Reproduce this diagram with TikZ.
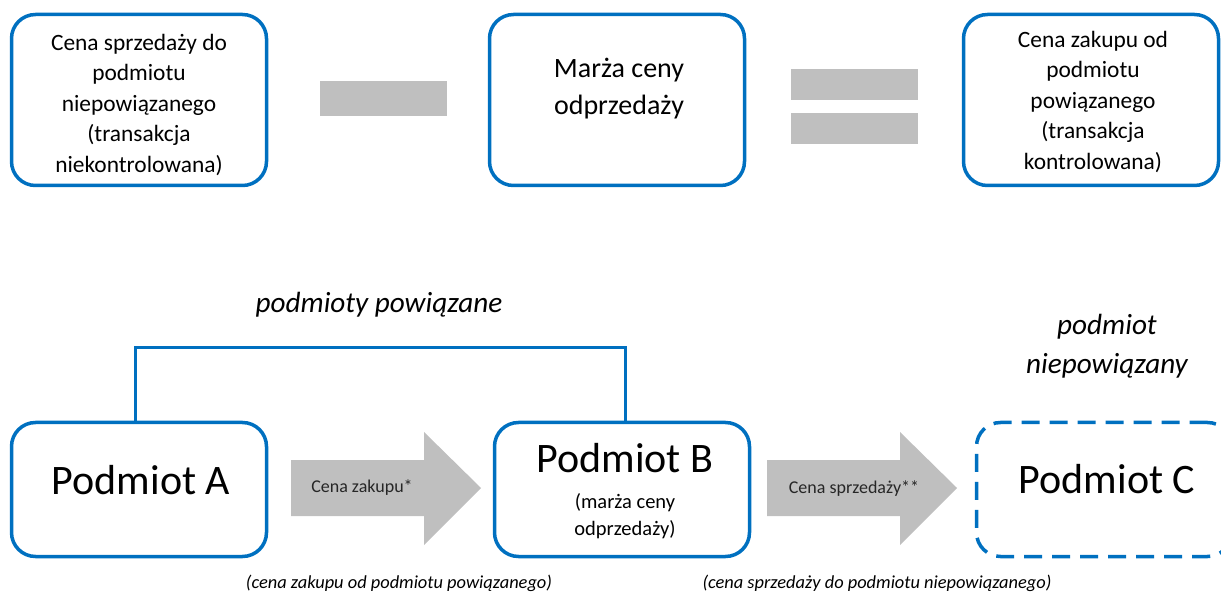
\documentclass[tikz,border=0pt]{standalone}
\usepackage{fontspec}
\setmainfont{Carlito}
\usetikzlibrary{positioning}

\definecolor{boxblue}{HTML}{0070C0}
\definecolor{arrowgray}{HTML}{BFBFBF}
\definecolor{labelgray}{HTML}{262626}

\tikzset{
  topbox/.style={draw=boxblue, line width=3.5pt, rounded corners=24pt,
    minimum width=255pt, minimum height=171pt},
  entbox/.style={draw=boxblue, line width=3.5pt, rounded corners=24pt,
    minimum width=255pt, minimum height=134pt},
  toptext/.style={align=center, font=\fontsize{23.4}{30.5}\selectfont},
  bigtext/.style={font=\fontsize{42}{50}\selectfont},
  arrowtext/.style={text=labelgray, font=\fontsize{18}{22}\selectfont},
  note/.style={align=center, font=\itshape\fontsize{29.2}{39}\selectfont},
  caption/.style={font=\itshape\fontsize{18.4}{20}\selectfont}
}

\begin{document}
\begin{tikzpicture}[x=1pt,y=-1pt]
  \useasboundingbox (0,0) rectangle (1221,593);
  % top row
  \node[topbox] (sale) at (139,100) {};
  \node[topbox] (margin) at (617,100) {};
  \node[topbox] (purchase) at (1091,100) {};
  \node[toptext] (saletxt) at (139,105)
    {Cena sprzedaży do\\podmiotu\\niepowiązanego\\(transakcja\\niekontrolowana)};
  \node[align=center, font=\fontsize{28}{37}\selectfont] (margintxt) at (619,89)
    {Marża ceny\\odprzedaży};
  \node[toptext] (purchasetxt) at (1093,102)
    {Cena zakupu od\\podmiotu\\powiązanego\\(transakcja\\kontrolowana)};
  \fill[arrowgray] (320,81) rectangle (447,116);
  \fill[arrowgray] (791,69) rectangle (918,100);
  \fill[arrowgray] (791,113) rectangle (918,144);

  % bottom row
  \node[entbox] (entA) at (139,489.5) {};
  \node[entbox] (entB) at (622,489.5) {};
  \node[entbox, dashed, dash pattern=on 18pt off 10pt] (entC) at (1104,489.5) {};
  \node[bigtext] (entAtxt) at (141,480) {Podmiot A};
  \node[bigtext] (entBtxt) at (625,458) {Podmiot B};
  \node[align=center, font=\fontsize{20.5}{27}\selectfont] (entBsub) at (625,516)
    {(marża ceny\\odprzedaży)};
  \node[bigtext] (entCtxt) at (1107,479) {Podmiot C};

  % related parties
  \coordinate (brA) at (135,348);
  \coordinate (brB) at (625,348);
  \draw[boxblue, line width=3pt] (brA |- entA.north) -- (brA) -- (brB) -- (brB |- entB.north);
  \node[note] (related) at (379,305) {podmioty powiązane};
  \node[note] (unrelated) at (1107,346) {podmiot\\niepowiązany};

  % flows
  \fill[arrowgray] (291,460) -- (424,460) -- (424,432) -- (481,488)
    -- (424,545) -- (424,516) -- (291,516) -- cycle;
  \fill[arrowgray] (767,460) -- (900,460) -- (900,432) -- (957,488)
    -- (900,545) -- (900,516) -- (767,516) -- cycle;
  \node[arrowtext] (buy) at (362,488) {Cena zakupu*};
  \node[arrowtext] (sell) at (854,489) {Cena sprzedaży**};
  \node[caption] (buynote) at (399,583) {(cena zakupu od podmiotu powiązanego)};
  \node[caption] (sellnote) at (877,583) {(cena sprzedaży do podmiotu niepowiązanego)};
\end{tikzpicture}
\end{document}
